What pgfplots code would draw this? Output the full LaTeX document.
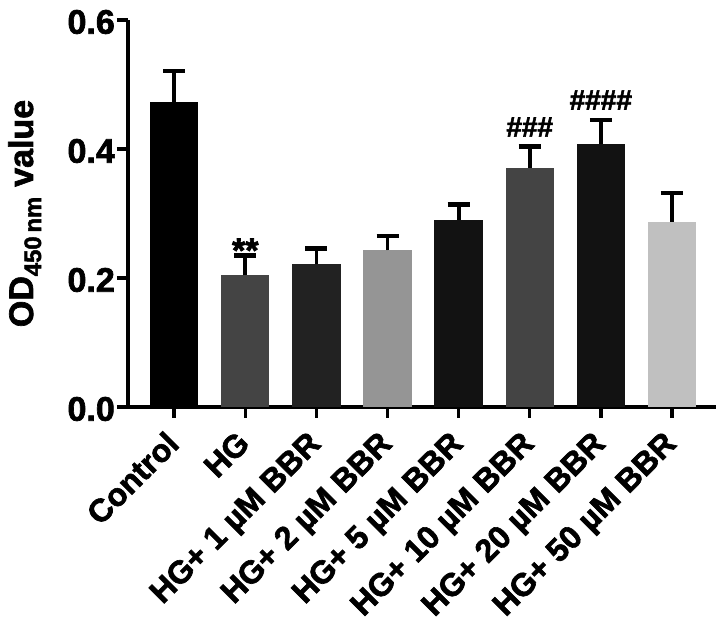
\documentclass[border=0pt]{standalone}
\usepackage{fontspec}
\setmainfont{Liberation Sans}[BoldFeatures={FakeBold=2}]
\usepackage{pgfplots}
\pgfplotsset{compat=1.18}
\definecolor{cA}{HTML}{000000}
\definecolor{cB}{HTML}{444444}
\definecolor{cC}{HTML}{222222}
\definecolor{cD}{HTML}{959595}
\definecolor{cE}{HTML}{121212}
\definecolor{cF}{HTML}{444444}
\definecolor{cG}{HTML}{121212}
\definecolor{cH}{HTML}{C0C0C0}
\pgfplotsset{mybar/.style={bar shift=0pt, draw=none,
    error bars/y dir=plus, error bars/y explicit,
    error bars/error bar style={line width=3.8pt, black},
    error bars/error mark options={rotate=90, line width=4.5pt, mark size=11pt, black}}}
\begin{document}
\begin{tikzpicture}
\begin{axis}[
  scale only axis,
  width=588pt, height=387pt,
  xmin=-0.65, xmax=7.62,
  ymin=0, ymax=0.6,
  ytick={0,0.2,0.4,0.6},
  xtick={0,...,7},
  xticklabels={Control,HG,HG+ 1 µM BBR,HG+ 2 µM BBR,HG+ 5 µM BBR,HG+ 10 µM BBR,HG+ 20 µM BBR,HG+ 50 µM BBR},
  axis lines*=left,
  axis line style={line width=3.5pt, black},
  tick style={line width=3.5pt, black},
  major tick length=11pt,
  tick align=outside,
  /pgf/number format/assume math mode=true,
  /pgf/number format/fixed,
  /pgf/number format/fixed zerofill,
  /pgf/number format/precision=1,
  yticklabel style={font=\bfseries\fontsize{34}{34}\selectfont, inner sep=2pt, yshift=-2pt},
  xticklabel style={font=\bfseries\fontsize{32}{32}\selectfont, rotate=45, anchor=north east, inner sep=1pt, xshift=-14pt},
  ylabel={OD\textsubscript{450\,nm} value},
  ylabel style={font=\bfseries\fontsize{34}{34}\selectfont, at={(axis description cs:-0.1616,0.5)}, anchor=base, inner sep=0pt},
  ybar, bar width=0.68,
  clip=false,
]
\addplot[mybar, fill=cA] coordinates {(0,0.473) +- (0,0.048)};
\addplot[mybar, fill=cB] coordinates {(1,0.204) +- (0,0.031)};
\addplot[mybar, fill=cC] coordinates {(2,0.221) +- (0,0.025)};
\addplot[mybar, fill=cD] coordinates {(3,0.243) +- (0,0.022)};
\addplot[mybar, fill=cE] coordinates {(4,0.290) +- (0,0.024)};
\addplot[mybar, fill=cF] coordinates {(5,0.371) +- (0,0.033)};
\addplot[mybar, fill=cG] coordinates {(6,0.408) +- (0,0.037)};
\addplot[mybar, fill=cH] coordinates {(7,0.287) +- (0,0.045)};
\node[font=\bfseries\fontsize{34}{34}\selectfont] at (axis cs:1,0.243) {**};
\node[font=\bfseries\fontsize{28}{28}\selectfont] at (axis cs:5,0.434) {\#\#\#};
\node[font=\bfseries\fontsize{28}{28}\selectfont] at (axis cs:6,0.476) {\#\#\#\#};
\coordinate (BL) at ([xshift=-128pt,yshift=-228pt]rel axis cs:0,0);
\coordinate (TR) at ([xshift=8pt,yshift=20pt]rel axis cs:1,1);
\end{axis}
\pgfresetboundingbox
\path[use as bounding box] (BL) rectangle (TR);
\end{tikzpicture}
\end{document}
